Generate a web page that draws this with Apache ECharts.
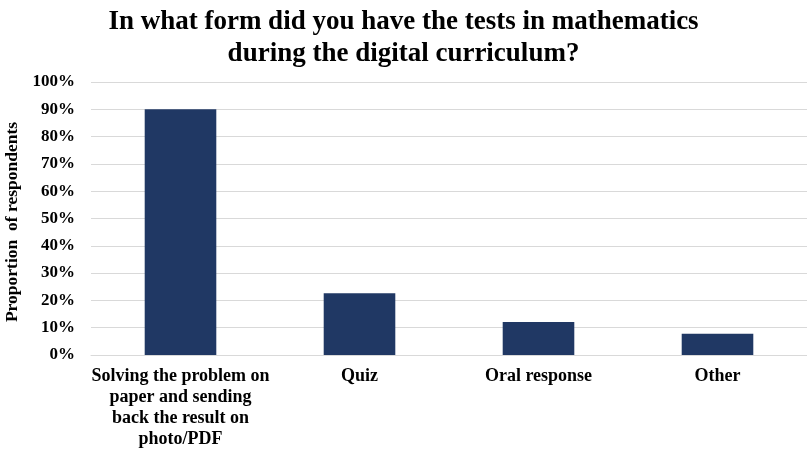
<!DOCTYPE html>
<html>
<head>
<meta charset="utf-8">
<script src="https://cdn.jsdelivr.net/npm/echarts@6/dist/echarts.min.js"></script>
<style>
html,body{margin:0;padding:0;background:#fff;}
#chart{width:807px;height:449px;}
</style>
</head>
<body>
<div id="chart"></div>
<script>
// Survey answers: form of mathematics tests during the digital curriculum
const categories = [
  'Solving the problem on\npaper and sending\nback the result on\nphoto/PDF',
  'Quiz',
  'Oral response',
  'Other'
];
const shares = [90, 22.6, 12.1, 7.8];
const titleLines = [
  'In what form did you have the tests in mathematics',
  'during the digital curriculum?'
];

const serif = '"Liberation Serif", "Times New Roman", serif';
const chart = echarts.init(document.getElementById('chart'));
chart.setOption({
  animation: false,
  title: {
    text: titleLines.join('\n'),
    left: 'center',
    top: 1,
    textStyle: {
      fontFamily: serif,
      fontWeight: 'bold',
      fontSize: 27,
      lineHeight: 32,
      color: '#000'
    }
  },
  grid: { left: 91, right: 0, top: 82, bottom: 94, outerBoundsMode: 'none' },
  xAxis: {
    type: 'category',
    data: categories,
    axisLine: { lineStyle: { color: '#d9d9d9' } },
    axisTick: { show: false },
    axisLabel: {
      interval: 0,
      margin: 11,
      fontFamily: serif,
      fontWeight: 'bold',
      fontSize: 18,
      lineHeight: 21,
      color: '#000'
    }
  },
  yAxis: {
    type: 'value',
    min: 0,
    max: 100,
    interval: 10,
    name: 'Proportion  of respondents',
    nameLocation: 'middle',
    nameGap: 65,
    nameRotate: 90,
    nameTextStyle: {
      fontFamily: serif,
      fontWeight: 'bold',
      fontSize: 17.5,
      color: '#000',
      padding: [0, 7, 0, 0]
    },
    axisLine: { show: false },
    axisTick: { show: false },
    splitLine: { lineStyle: { color: '#d9d9d9', width: 1 } },
    axisLabel: {
      formatter: '{value}%',
      margin: 16,
      fontFamily: serif,
      fontWeight: 'bold',
      fontSize: 17,
      color: '#000'
    }
  },
  series: [{
    type: 'bar',
    data: shares,
    barWidth: '40%',
    itemStyle: { color: '#203864' }
  }]
});
</script>
</body>
</html>
